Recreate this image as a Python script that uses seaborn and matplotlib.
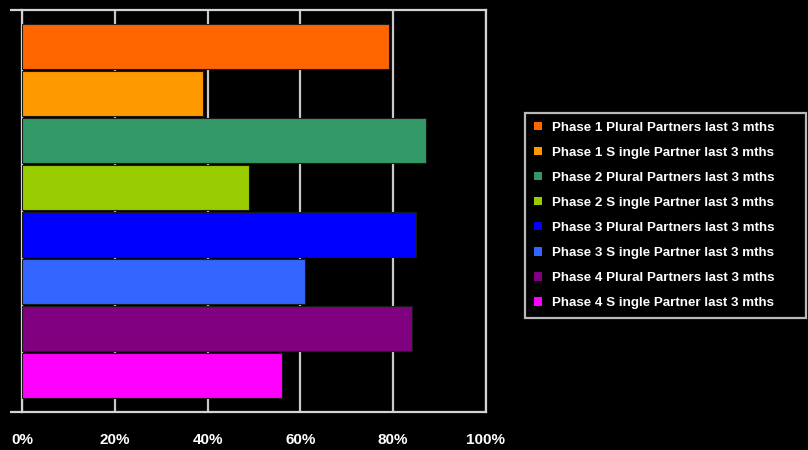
import matplotlib
matplotlib.use("Agg")
import matplotlib.pyplot as plt
import seaborn as sns
import pandas as pd

# Share of respondents by survey phase and partner count
series = [
    "Phase 1 Plural Partners last 3 mths",
    "Phase 1 S ingle Partner last 3 mths",
    "Phase 2 Plural Partners last 3 mths",
    "Phase 2 S ingle Partner last 3 mths",
    "Phase 3 Plural Partners last 3 mths",
    "Phase 3 S ingle Partner last 3 mths",
    "Phase 4 Plural Partners last 3 mths",
    "Phase 4 S ingle Partner last 3 mths",
]
values = [79, 39, 87, 49, 85, 61, 84, 56]
colors = ["#FF6600", "#FF9900", "#339966", "#99CC00",
          "#0000FF", "#3366FF", "#800080", "#FF00FF"]
x_ticks = [0, 20, 40, 60, 80, 100]
x_tick_labels = ["0%", "20%", "40%", "60%", "80%", "100%"]

sns.set_theme(style="dark")
plt.rcParams["font.family"] = ["Liberation Sans", "DejaVu Sans"]

W, H = 808, 450
fig = plt.figure(figsize=(W / 100, H / 100), dpi=100, facecolor="black")
ax = fig.add_axes([22 / W, 38 / H, 464 / W, 402 / H], facecolor="black")

df = pd.DataFrame({"series": series, "share": values})
sns.barplot(data=df, x="share", y="series", hue="series", order=series,
            hue_order=series, palette=colors, saturation=1, width=0.97,
            edgecolor="#1a1a1a", linewidth=0.8, legend=True, ax=ax,
            zorder=3)

line_col = "#d4d4d4"
ax.set_xlim(0, 100)
pad = 0.275
ax.set_ylim(len(series) - 0.5 + pad, -0.5 - pad)
ax.set_xticks(x_ticks)
ax.set_xticklabels(x_tick_labels, color="white", fontweight="bold",
                   fontsize=11)
ax.set_yticks([len(series) - 0.5 + pad, -0.5 - pad])
ax.set_yticklabels([])
ax.tick_params(axis="x", direction="inout", length=16, width=1.6,
               color=line_col, pad=7)
ax.tick_params(axis="y", direction="out", length=9, width=1.6,
               color=line_col, left=True)
ax.set_xlabel("")
ax.set_ylabel("")
ax.xaxis.grid(True, color="#c8c8c8", linewidth=1.6)
ax.yaxis.grid(False)
ax.set_axisbelow(True)
for s in ax.spines.values():
    s.set_visible(True)
    s.set_color(line_col)
    s.set_linewidth(1.6)

old = ax.get_legend()
handles = old.legend_handles
labels = [t.get_text() for t in old.get_texts()]
old.remove()
leg = fig.legend(handles, labels, loc="upper left",
                 bbox_to_anchor=(525 / W, 1 - 113 / H, 281 / W, 0),
                 bbox_transform=fig.transFigure, mode="expand",
                 frameon=True, fancybox=False, fontsize=9.6,
                 handlelength=0.6, handleheight=0.6, handletextpad=0.8,
                 labelspacing=0.98, borderpad=0.65, borderaxespad=0)
frame = leg.get_frame()
frame.set_facecolor("black")
frame.set_edgecolor("#e8e8e8")
frame.set_linewidth(1.6)
for h, c in zip(leg.legend_handles, colors):
    h.set_facecolor(c)
    h.set_edgecolor("none")
for t in leg.get_texts():
    t.set_color("white")
    t.set_fontweight("bold")

fig.savefig("out.png", dpi=100, facecolor="black")
